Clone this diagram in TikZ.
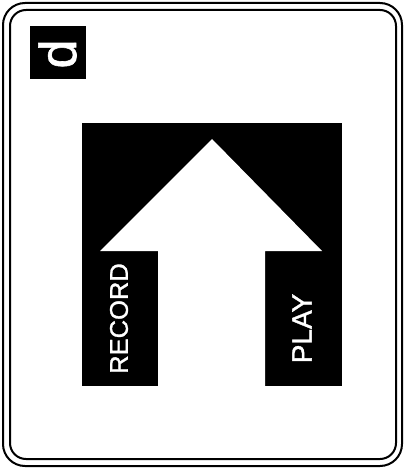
\documentclass[tikz,border=0pt]{standalone}
\usepackage{fontspec}
\setmainfont{Liberation Sans}
\newfontfamily\lblfont{Liberation Sans}[FakeBold=1.2]
\begin{document}
\begin{tikzpicture}[x=1pt,y=-1pt,line width=2pt,
  frame/.style={draw=black,line width=2pt},
  whitelbl/.style={text=white,rotate=90,inner sep=0pt,anchor=center}]
\useasboundingbox (0,0) rectangle (405,470);
% double rounded frame
\draw[frame,rounded corners=22pt] (3,3) rectangle (402,466);
\draw[frame,rounded corners=16pt] (10,10) rectangle (396,459);
% small black box with letter
\node[fill=black,minimum width=56pt,minimum height=53pt,inner sep=0pt] (dbox) at (58,52.5) {};
\node[whitelbl,font=\lblfont\fontsize{52}{52}\selectfont] (dletter) at (57.5,54) {d};
% big black panel
\node[fill=black,minimum width=260pt,minimum height=263pt,inner sep=0pt] (panel) at (212,254.5) {};
% white arrow
\fill[white] (212,139) -- (322,251) -- (265,251) -- (265,386) -- (158,386) -- (158,251) -- (100,251) -- cycle;
% labels
\node[whitelbl,font=\lblfont\fontsize{25.5}{25.5}\selectfont] (rec) at (119,318.5) {RECORD};
\node[whitelbl,font=\lblfont\fontsize{28}{28}\selectfont] (play) at (302,328.5) {PLAY};
\end{tikzpicture}
\end{document}
